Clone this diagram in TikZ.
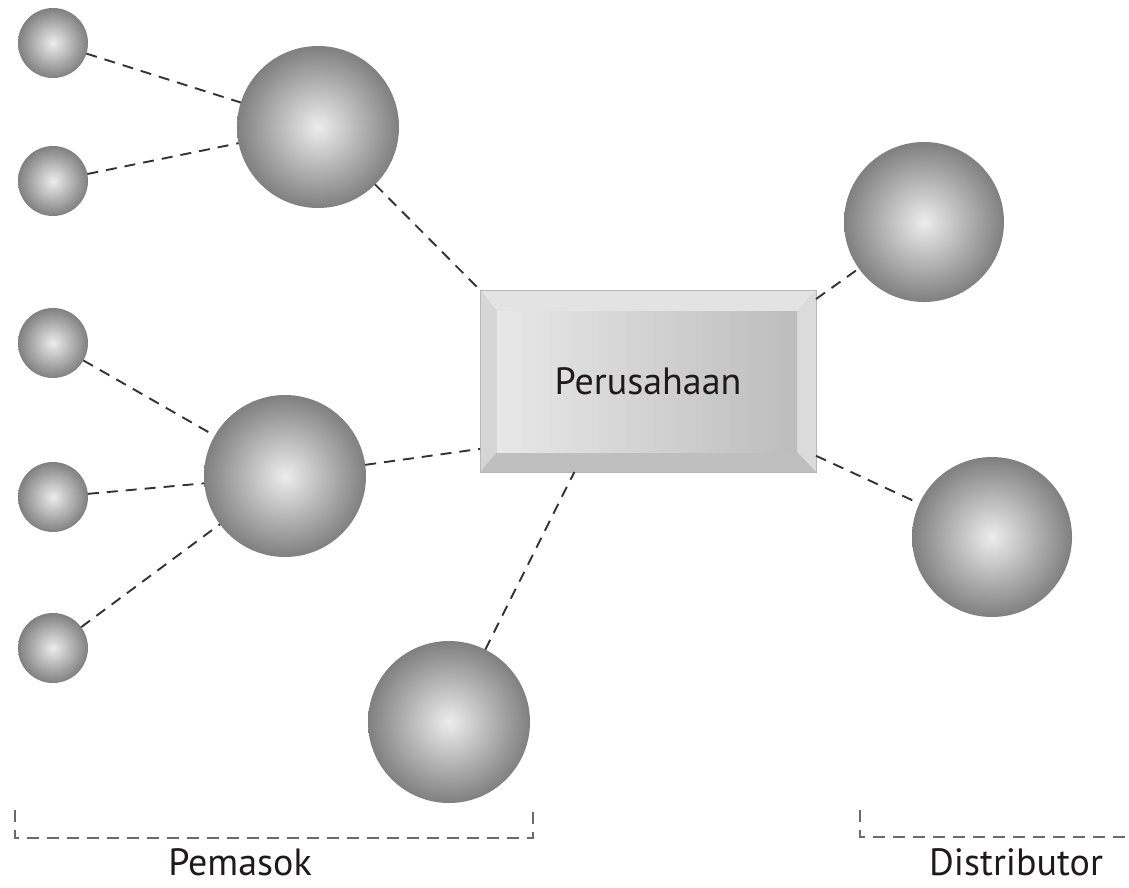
\documentclass[tikz,border=0pt]{standalone}
\usepackage{fontspec}
\setmainfont{PT Sans}
\usetikzlibrary{calc,positioning}
\definecolor{TextDark}{HTML}{1E1A1B}
\definecolor{LinkGray}{HTML}{333333}
\definecolor{BraceGray}{HTML}{6A6A6A}

\tikzset{
  ball/.style={circle,inner sep=0pt,outer sep=0pt,minimum size=#1,
               shading=radial,inner color=black!7,outer color=black!50},
  link/.style={LinkGray,line width=1.9pt,dash pattern=on 11pt off 8pt},
  brace/.style={BraceGray,line width=1.8pt,dash pattern=on 12pt off 8pt},
  tag/.style={text=TextDark,font=\fontsize{38}{44}\selectfont},
  firm/.style={rectangle,minimum width=336pt,minimum height=182pt,
               inner sep=0pt,outer sep=0pt,fill=black!13,draw=black!28,
               line width=1pt,text=TextDark,font=\fontsize{38}{44}\selectfont,
               path picture={
                 \coordinate (oNW) at (path picture bounding box.north west);
                 \coordinate (oNE) at (path picture bounding box.north east);
                 \coordinate (oSW) at (path picture bounding box.south west);
                 \coordinate (oSE) at (path picture bounding box.south east);
                 \coordinate (iNW) at ([shift={(17pt,-21pt)}]oNW);
                 \coordinate (iNE) at ([shift={(-19pt,-21pt)}]oNE);
                 \coordinate (iSW) at ([shift={(17pt,20pt)}]oSW);
                 \coordinate (iSE) at ([shift={(-19pt,20pt)}]oSE);
                 \fill[black!11] (oNW) -- (oNE) -- (iNE) -- (iNW) -- cycle;
                 \fill[black!16] (oNW) -- (iNW) -- (iSW) -- (oSW) -- cycle;
                 \fill[black!14] (oNE) -- (iNE) -- (iSE) -- (oSE) -- cycle;
                 \fill[black!25] (oSW) -- (iSW) -- (iSE) -- (oSE) -- cycle;
                 \shade[left color=black!9,right color=black!26] (iNW) rectangle (iSE);
               }}
}

\begin{document}
\begin{tikzpicture}[x=1pt,y=-1pt]
  \useasboundingbox (0,0) rectangle (1129,887);
  % suppliers of suppliers
  \node[ball=70pt] (s1) at (53,43) {};
  \node[ball=70pt] (s2) at (53,181) {};
  \node[ball=70pt] (s3) at (53,343) {};
  \node[ball=70pt] (s4) at (53,497) {};
  \node[ball=70pt] (s5) at (53,648) {};
  % suppliers
  \node[ball=162pt] (p1) at (318,127) {};
  \node[ball=162pt] (p2) at (285,476) {};
  \node[ball=162pt] (p3) at (449,722) {};
  % distributors
  \node[ball=160pt] (d1) at (924,222) {};
  \node[ball=160pt] (d2) at (992,537) {};
  % company
  \node[firm] (firm) at (648,381) {Perusahaan};

  \draw[link] (s1) -- (p1);
  \draw[link] (s2) -- (p1);
  \draw[link] (s3) -- (p2);
  \draw[link] (s4) -- (p2);
  \draw[link] (s5) -- (p2);
  \draw[link] (p1) -- (firm.north west);
  \draw[link] (p2) -- (firm.202);
  \draw[link] (p3) -- (firm.231);
  \draw[link] (firm.26) -- (d1);
  \draw[link] (firm.-24) -- (d2);

  % group labels
  \node[tag] (pemasok) at (240,862) {Pemasok};
  \node[tag] (distributor) at (1016,862) {Distributor};
  \draw[brace] (15,810) -- (15,838) -- (533,838) -- (533,808);
  \draw[brace] (860,810) -- (860,837) -- (1129,837);
\end{tikzpicture}
\end{document}
